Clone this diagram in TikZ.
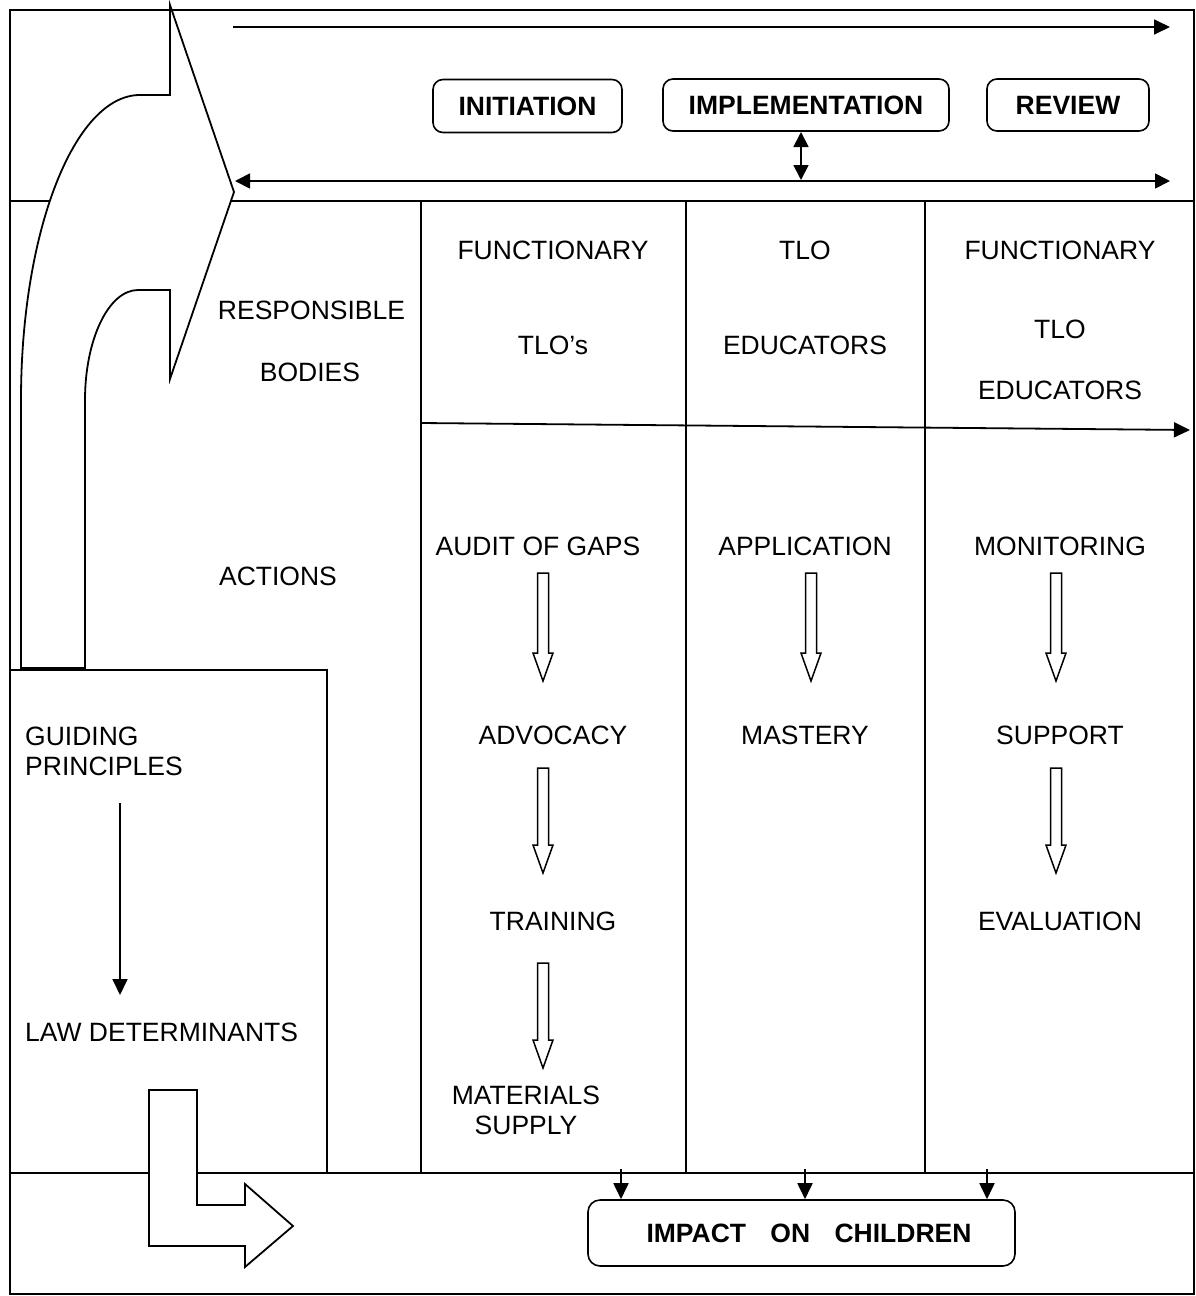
\documentclass[tikz,border=0pt]{standalone}
\usepackage{fontspec}
\setmainfont{Liberation Sans}
\usetikzlibrary{arrows.meta}
\tikzset{
  frameline/.style={line width=1.8bp},
  conn/.style={line width=1.8bp, -{Triangle[length=16bp,width=15bp]}},
  dconn/.style={line width=1.8bp, {Triangle[length=15bp,width=15bp]}-{Triangle[length=15bp,width=15bp]}},
  txt/.style={anchor=base, inner sep=0pt, font=\fontsize{26.5bp}{31bp}\selectfont},
  txtl/.style={txt, anchor=base west},
  phasebox/.style={draw, line width=1.6bp, rounded corners=10bp, inner sep=0pt,
    font=\fontsize{26.5bp}{31bp}\selectfont\bfseries},
  hollow/.style={draw, line width=1.5bp, fill=white},
  bigarrow/.style={draw, line width=1.8bp, fill=white, line join=miter},
}
% downward hollow block arrow: x, top y, tip y
\newcommand{\hollowdown}[3]{%
  \draw[hollow] (#1-5.5,#2) -- (#1+5.5,#2) -- (#1+5.5,#3-28) -- (#1+10,#3-28)
    -- (#1,#3) -- (#1-10,#3-28) -- (#1-5.5,#3-28) -- cycle;}
\begin{document}
\begin{tikzpicture}[x=1bp,y=-1bp]
\useasboundingbox (0,0) rectangle (1196,1296);
\fill[white] (0,0) rectangle (1196,1296);

% frame and grid
\draw[frameline] (10,10) rectangle (1194,1294);
\draw[frameline] (10,201) -- (1194,201);
\draw[frameline] (10,1173) -- (1194,1173);
\draw[frameline] (421,201) -- (421,1173);
\draw[frameline] (686,201) -- (686,1173);
\draw[frameline] (925,201) -- (925,1173);
\draw[frameline] (10,670) -- (327,670) -- (327,1173);

% curved block arrow rising from the guiding principles
\draw[bigarrow] (21,668) -- (21,400) arc[start angle=180, end angle=270, x radius=119, y radius=305]
  -- (170,95) -- (170,5) -- (234,192) -- (170,379) -- (170,290) -- (138,290)
  arc[start angle=270, end angle=180, x radius=53, y radius=110]
  -- (85,668) -- cycle;

% L-shaped block arrow towards the impact
\draw[bigarrow] (149,1090) -- (197,1090) -- (197,1205) -- (245,1205) -- (245,1184)
  -- (293,1226) -- (245,1267) -- (245,1246) -- (149,1246) -- cycle;

% phases
\node[phasebox, minimum width=189bp, minimum height=53bp] (init) at (527.5,106) {INITIATION};
\node[phasebox, minimum width=286bp, minimum height=52bp] (impl) at (806,105) {IMPLEMENTATION};
\node[phasebox, minimum width=162bp, minimum height=52bp] (rev) at (1068,105) {REVIEW};

\coordinate (t1) at (233,27);
\coordinate (t2) at (1170,27);
\draw[conn] (t1) -- (t2);
\coordinate (b1) at (235,181);
\coordinate (b2) at (1170,181);
\draw[dconn] (b1) -- (b2);
\coordinate (v1) at (801,132);
\coordinate (v2) at (801,180);
\draw[dconn] (v1) -- (v2);

% row labels
\node[txt] (resp) at (311.5,319.5) {RESPONSIBLE};
\node[txt] (bod) at (310,381.5) {BODIES};
\node[txt] (act) at (278,585.5) {ACTIONS};

% responsible bodies
\node[txt] (f1) at (553,259) {FUNCTIONARY};
\node[txt] (tlos) at (553,354) {TLO’s};
\node[txt] (tlo2) at (805,259) {TLO};
\node[txt] (ed2) at (805,354) {EDUCATORS};
\node[txt] (f3) at (1060,259) {FUNCTIONARY};
\node[txt] (tlo3) at (1060,338.5) {TLO};
\node[txt] (ed3) at (1060,399.5) {EDUCATORS};

\coordinate (d1) at (421,423);
\coordinate (d2) at (1190,430);
\draw[conn] (d1) -- (d2);

% actions
\node[txt] (audit) at (538,555.5) {AUDIT OF GAPS};
\node[txt] (adv) at (553,744.5) {ADVOCACY};
\node[txt] (train) at (553,930.5) {TRAINING};
\node[txt] (mat) at (526,1104.5) {MATERIALS};
\node[txt] (sup) at (526,1134.5) {SUPPLY};
\node[txt] (appl) at (805,555.5) {APPLICATION};
\node[txt] (mast) at (805,744.5) {MASTERY};
\node[txt] (mon) at (1060,555.5) {MONITORING};
\node[txt] (supp) at (1060,744.5) {SUPPORT};
\node[txt] (eval) at (1060,930.5) {EVALUATION};

\hollowdown{543}{573}{681}
\hollowdown{543}{768}{873}
\hollowdown{543}{963}{1068}
\hollowdown{811}{573}{681}
\hollowdown{1056}{573}{681}
\hollowdown{1056}{768}{873}

% guiding principles
\node[txtl] (guid) at (25,745.5) {GUIDING};
\node[txtl] (princ) at (25,775.5) {PRINCIPLES};
\node[txtl] (law) at (25,1041.5) {LAW DETERMINANTS};
\coordinate (g1) at (120,803);
\coordinate (g2) at (120,995);
\draw[conn] (g1) -- (g2);

% impact
\node[phasebox, minimum width=427bp, minimum height=66bp, rounded corners=12bp] (impact) at (801.5,1233)
  {\hspace*{15bp}IMPACT\hspace{17bp} ON\hspace{17bp} CHILDREN};
\coordinate (i1) at (621,1169);
\coordinate (i2) at (805,1169);
\coordinate (i3) at (987,1169);
\draw[conn] (i1) -- (i1 |- impact.north);
\draw[conn] (i2) -- (i2 |- impact.north);
\draw[conn] (i3) -- (i3 |- impact.north);
\end{tikzpicture}
\end{document}
